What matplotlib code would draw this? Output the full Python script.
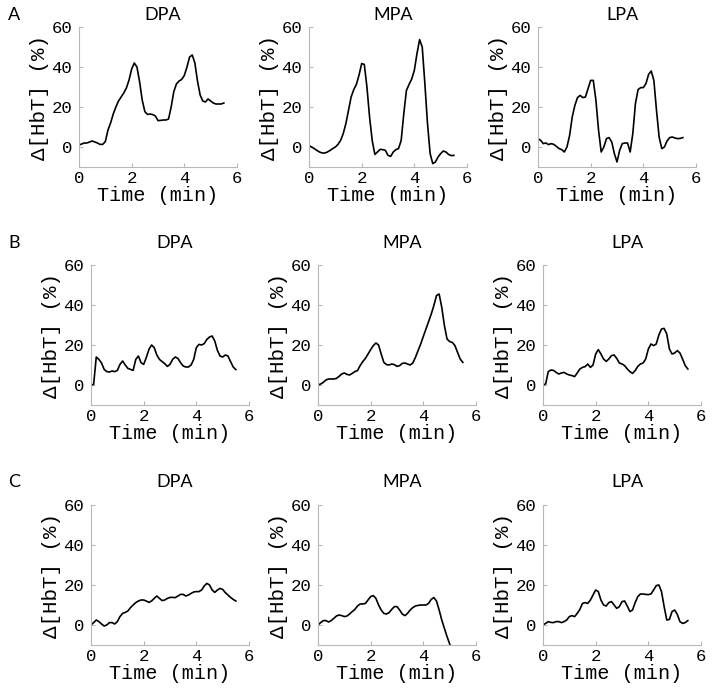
import matplotlib
matplotlib.use('Agg')
import matplotlib.pyplot as plt

# time axis shared by the traces (min)
time = [0.0, 0.1, 0.2, 0.3, 0.4, 0.5, 0.6, 0.7, 0.8, 0.9,
        1.0, 1.1, 1.2, 1.3, 1.4, 1.5, 1.6, 1.7, 1.8, 1.9,
        2.0, 2.1, 2.2, 2.3, 2.4, 2.5, 2.6, 2.7, 2.8, 2.9,
        3.0, 3.1, 3.2, 3.3, 3.4, 3.5, 3.6, 3.7, 3.8, 3.9,
        4.0, 4.1, 4.2, 4.3, 4.4, 4.5, 4.6, 4.7, 4.8, 4.9,
        5.0, 5.1, 5.2, 5.3, 5.4, 5.5]

regions = ['DPA', 'MPA', 'LPA']
rows = ['A', 'B', 'C']

# row A
a_dpa = [1, 1.5, 2, 2, 2.5, 3, 2.5, 2, 1.3, 1.3,
         2.7, 8.5, 12, 16.5, 20, 23, 25, 27, 29.5, 33.5,
         39, 42, 40, 32.7, 23.5, 17.7, 16.3, 16.5, 16.2, 15.5,
         13.2, 13.3, 13.5, 13.5, 14, 20, 27.7, 31.5, 33, 33.8,
         35.8, 40, 45, 46, 42, 33, 26, 23, 22.5, 24,
         23, 22, 21.5, 21.5, 21.5, 22]
a_mpa = [0.7, 0, -0.8, -1.7, -2.5, -3, -3, -2.5, -1.7, -0.8,
         0, 1.3, 3.3, 6.7, 11.7, 18.3, 25, 28.7, 31.3, 36,
         41.7, 41.3, 30, 15, 3.3, -3.7, -2.5, -1.2, -1.3, -1.7,
         -4.2, -4.7, -2.5, -1.3, -0.8, 3.3, 16.7, 28.3, 31.3, 34,
         38.3, 46.7, 53.7, 50, 31.7, 11.7, -3.3, -8.3, -7.5, -5,
         -3.3, -2, -2.5, -3.7, -4.3, -4.2]
a_lpa = [4.2, 3.3, 1.7, 2, 1.2, 1.7, 1.3, 0.3, -0.8, -1.3,
         -2.5, 0, 5.8, 15, 20.8, 24.7, 25.8, 24.7, 25, 29.2,
         33.3, 33.3, 23.3, 8.3, -2.5, 0, 4.2, 4.7, 2.5, -3.3,
         -7.5, -1.7, 1.7, 2, 2, -2.5, 6.7, 21.7, 28.7, 29.7,
         29.7, 31.7, 36.3, 38, 33.3, 18.3, 5, -0.8, 0, 3,
         4.7, 5, 4.5, 4.2, 4.3, 4.7]

# row B
b_dpa = [0, 0.3, 14, 12.8, 11, 7.8, 6.7, 6.5, 7, 6.7,
         7.3, 10.3, 12, 10, 8.3, 7.8, 7.3, 12.8, 14.5, 11.2,
         10.3, 13.7, 17.8, 20, 18.7, 15, 12.8, 11.7, 10.7, 9.3,
         10.3, 12.8, 14, 13.3, 11.2, 9.5, 9, 9, 10, 12.8,
         18.7, 20.3, 20, 20.7, 22.8, 24, 24.5, 22, 17.3, 14.5,
         14, 15, 14.5, 11.7, 9, 7.7]
b_mpa = [0, 0.5, 1.3, 2.5, 3, 3, 3, 3.3, 4.3, 5.5,
         6, 5.3, 5, 5.8, 6.7, 7.2, 9.7, 11.7, 13.3, 15.5,
         17.7, 19.7, 21, 20, 15.5, 11.3, 10.2, 10, 10.5, 10.2,
         9.3, 9.7, 10.8, 11, 10.5, 10, 11, 13.8, 17.2, 20.5,
         24.3, 28, 31.7, 35.5, 39.7, 44.7, 45.5, 38.8, 29.7, 23,
         21.7, 21.3, 19.7, 16.3, 13, 11.3]
b_lpa = [0, 0.5, 6.7, 7.5, 7.3, 6.3, 5.5, 6, 6.3, 5.5,
         5, 4.7, 4.2, 6, 8, 8.8, 9.2, 10.5, 8.8, 10,
         15.5, 17.7, 15.5, 13, 11.8, 13, 14.7, 15, 13.3, 11,
         10.5, 9.7, 8, 6.7, 5.8, 7.2, 9.3, 10.5, 11, 13,
         18, 20.5, 19.7, 20.5, 25, 28, 28.3, 25.5, 18, 15.5,
         16, 17.2, 16, 13, 9.7, 8]

# row C
c_dpa = [0, 1.2, 2.5, 1.7, 0.5, -0.5, 0, 1.2, 1.2, 0.5,
         1.7, 4.2, 5.8, 6.3, 7, 8.7, 10, 11.2, 12, 12.5,
         12.5, 12, 11.3, 12, 13.3, 14.5, 13.3, 12.2, 12.5, 13.3,
         13.8, 13.8, 13.7, 14.5, 15.3, 15.3, 14.5, 15, 15.8, 16.5,
         16.7, 16.7, 17.5, 19.5, 20.8, 20, 17.5, 16.3, 17.5, 18.3,
         17.8, 16.2, 15, 13.8, 12.8, 12]
c_mpa = [0, 1.2, 2.2, 2.2, 1.5, 2.2, 3.3, 4.5, 5, 4.7,
         4.2, 4.5, 5.5, 6.7, 7.8, 9.5, 10.5, 10.5, 10.8, 12.5,
         14.2, 14.7, 13.3, 10, 7.5, 5.8, 5.5, 6.2, 7.8, 9.2,
         9.2, 7.5, 5.5, 4.7, 5.8, 7.5, 8.7, 9.5, 9.8, 10,
         10, 10, 10.8, 12.8, 13.7, 12, 7.5, 2.5, -1.7, -5.8,
         -9.5, -13, -17, -21, -25, -29]
c_lpa = [0, 0.8, 1.7, 1.3, 1.2, 1.7, 1.7, 1.2, 1.7, 2.5,
         4.2, 4.7, 4.2, 5.8, 7.8, 10.8, 11.2, 10.8, 12.5, 15,
         17.5, 16.7, 12.5, 10, 9.5, 11.2, 11.7, 10, 8.3, 9.2,
         11.7, 12, 9.5, 6.7, 7.5, 11.2, 14.2, 15.5, 15.5, 15.3,
         15.2, 15.5, 17.5, 19.7, 20, 16.7, 9.2, 2.5, 2.8, 6.7,
         7.5, 5.3, 1.7, 0.8, 1.2, 2.2]

traces = [[a_dpa, a_mpa, a_lpa],
          [b_dpa, b_mpa, b_lpa],
          [c_dpa, c_mpa, c_lpa]]

xticks = [0, 2, 4, 6]
yticks = [0, 20, 40, 60]

W, H = 714, 695
fig = plt.figure(figsize=(W / 100, H / 100), dpi=100)

mono = 'Liberation Mono'
spine_col = '#b8b8b8'

# axes placement in pixels: left edges per row, top (y=60) per row
lefts = [[79, 309, 538], [91, 318, 543], [91, 318, 543]]
tops = [27, 265, 505]
ax_w, ax_h = 158, 140
title_gap = [12, 22, 23]

for r in range(3):
    for c in range(3):
        l = lefts[r][c]
        t = tops[r]
        ax = fig.add_axes([l / W, (H - t - ax_h) / H, ax_w / W, ax_h / H])
        ax.plot(time, traces[r][c], color='black', lw=1.2)
        ax.set_xlim(0, 6)
        ax.set_ylim(-10, 60)
        ax.set_xticks(xticks)
        ax.set_yticks(yticks)
        for s in ['top', 'right']:
            ax.spines[s].set_visible(False)
        for s in ['left', 'bottom']:
            ax.spines[s].set_color(spine_col)
            ax.spines[s].set_linewidth(0.8)
        ax.tick_params(direction='in', length=3, color=spine_col, width=0.8,
                       labelsize=12.5)
        ax.tick_params(axis='x', pad=3)
        ax.tick_params(axis='y', pad=5)
        for lab in ax.get_xticklabels() + ax.get_yticklabels():
            lab.set_fontfamily(mono)
        ax.set_xlabel('Time (min)', fontfamily=mono, fontsize=14.5, labelpad=0)
        ax.set_ylabel('Δ[HbT] (%)', fontfamily=mono, fontsize=15, labelpad=2)
        fig.text((l + 84) / W, 1 - (t - title_gap[r]) / H, regions[c],
                 fontfamily='Lato', fontsize=13, ha='center', va='center')
    fig.text(14 / W, 1 - (tops[r] - title_gap[r]) / H, rows[r],
             fontfamily='Lato', fontsize=13, ha='center', va='center')

fig.savefig('out.png', dpi=100)
